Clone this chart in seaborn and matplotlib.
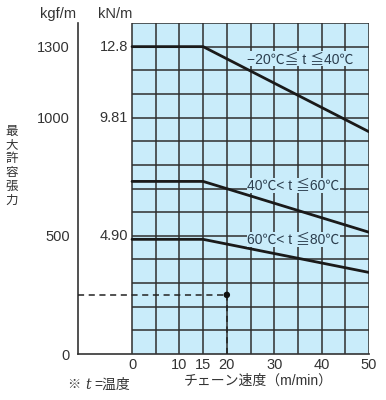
import numpy as np
import pandas as pd
import matplotlib
matplotlib.use("Agg")
import matplotlib.pyplot as plt
import seaborn as sns
from matplotlib.patches import Rectangle

sns.set_style("white")
plt.rcParams['font.family'] = ['Liberation Sans', 'Noto Sans CJK JP', 'DejaVu Sans']

# ---- data ----
speed = [0, 15, 50]
tension_low = [1300, 1300, 940]    # -20C <= t <= 40C
tension_mid = [730, 730, 515]      # 40C < t <= 60C
tension_high = [485, 485, 345]     # 60C < t <= 80C
series_labels = ["−20℃≦ t ≦40℃", "40℃< t ≦60℃", "60℃< t ≦80℃"]
label_pos_x = [35.4, 34.0, 34.0]
label_pos_y = [1249, 713, 485]
kgf_ticks = [0, 500, 1000, 1300]
kn_labels = ["", "4.90", "9.81", "12.8"]
x_ticks = [0, 10, 15, 20, 30, 40, 50]
example_speed = 20
example_tension = 250

df = pd.DataFrame({
    "speed": speed * 3,
    "tension": tension_low + tension_mid + tension_high,
    "series": [s for s in series_labels for _ in speed],
})

W, H = 386, 400
fig = plt.figure(figsize=(W / 100, H / 100), dpi=100)
ax = fig.add_axes([78 / W, 46 / H, (369 - 78) / W, (354 - 23) / H])

XMIN, XMAX, YMAX = -11.4, 50, 1400
ax.set_xlim(XMIN, XMAX)
ax.set_ylim(0, YMAX)

bg = "#c9ecfa"
gridc = "#2e2e2e"
txtc = "#333333"
ax.add_patch(Rectangle((0, 0), 50, YMAX, facecolor=bg, edgecolor="none", zorder=0))
ax.hlines(np.arange(100, YMAX + 1, 100), 0, 50, colors=gridc, lw=1.1, zorder=1)
ax.vlines(np.arange(0, 51, 5), 0, YMAX, colors=gridc, lw=1.1, zorder=1)

sns.lineplot(data=df, x="speed", y="tension", hue="series",
             palette=["#1a1a1a"] * 3, lw=2.0, legend=False, ax=ax, zorder=3)

# example dashed lines and point
ax.plot([XMIN, example_speed], [example_tension, example_tension],
        ls=(0, (4, 3)), color="#222222", lw=1.1, zorder=4)
ax.plot([example_speed, example_speed], [0, example_tension],
        ls=(0, (4, 3)), color="#222222", lw=1.1, zorder=4)
sns.scatterplot(x=[example_speed], y=[example_tension], color="#111111",
                s=22, ax=ax, zorder=5, edgecolor="none")

for lab, lx, ly in zip(series_labels, label_pos_x, label_pos_y):
    ax.text(lx, ly, lab, ha="center", va="center", fontsize=10, color="#2c3e4e",
            zorder=6, bbox=dict(facecolor=bg, edgecolor="none", pad=0.3))

# spines
for s in ["top", "right"]:
    ax.spines[s].set_visible(False)
ax.spines["left"].set_color(txtc)
ax.spines["bottom"].set_color(txtc)
ax.spines["left"].set_linewidth(1.2)
ax.spines["bottom"].set_linewidth(1.2)

yt = np.arange(0, YMAX + 1, 100)
ax.set_yticks(yt)
ax.set_yticklabels([str(v) if v in kgf_ticks else "" for v in yt])
ax.tick_params(axis="y", direction="in", length=5, width=1.2, color=txtc,
               labelsize=10.5, labelcolor=txtc, pad=6)
ax.set_xticks(x_ticks)
ax.set_xticklabels([str(v) for v in x_ticks])
ax.tick_params(axis="x", length=0, labelsize=10.5, labelcolor=txtc, pad=3)
ax.set_xlabel("")
ax.set_ylabel("")

for v, lab in zip(kgf_ticks, kn_labels):
    if lab:
        ax.text(-0.85, v, lab, ha="right", va="center", fontsize=10.5, color=txtc)

fig.text(58 / W, 1 - 14 / H, "kgf/m", ha="center", va="center", fontsize=10.5, color=txtc)
fig.text(115 / W, 1 - 14 / H, "kN/m", ha="center", va="center", fontsize=10.5, color=txtc)
fig.text(12 / W, 1 - 166 / H, "\n".join("最大許容張力"), ha="center", va="center",
         fontsize=9, color=txtc, linespacing=1.2)
fig.text(258 / W, 1 - 381 / H, "チェーン速度（m/min）", ha="center", va="center",
         fontsize=10, color=txtc)
fig.text(67 / W, 1 - 385 / H, "※", ha="left", va="center", fontsize=9.5, color=txtc)
fig.text(85 / W, 1 - 385 / H, "t", ha="left", va="center", fontsize=10, color=txtc,
         style="italic", family="DejaVu Serif")
fig.text(94 / W, 1 - 385 / H, "=温度", ha="left", va="center", fontsize=10, color=txtc)

fig.savefig("out.png", dpi=100)
